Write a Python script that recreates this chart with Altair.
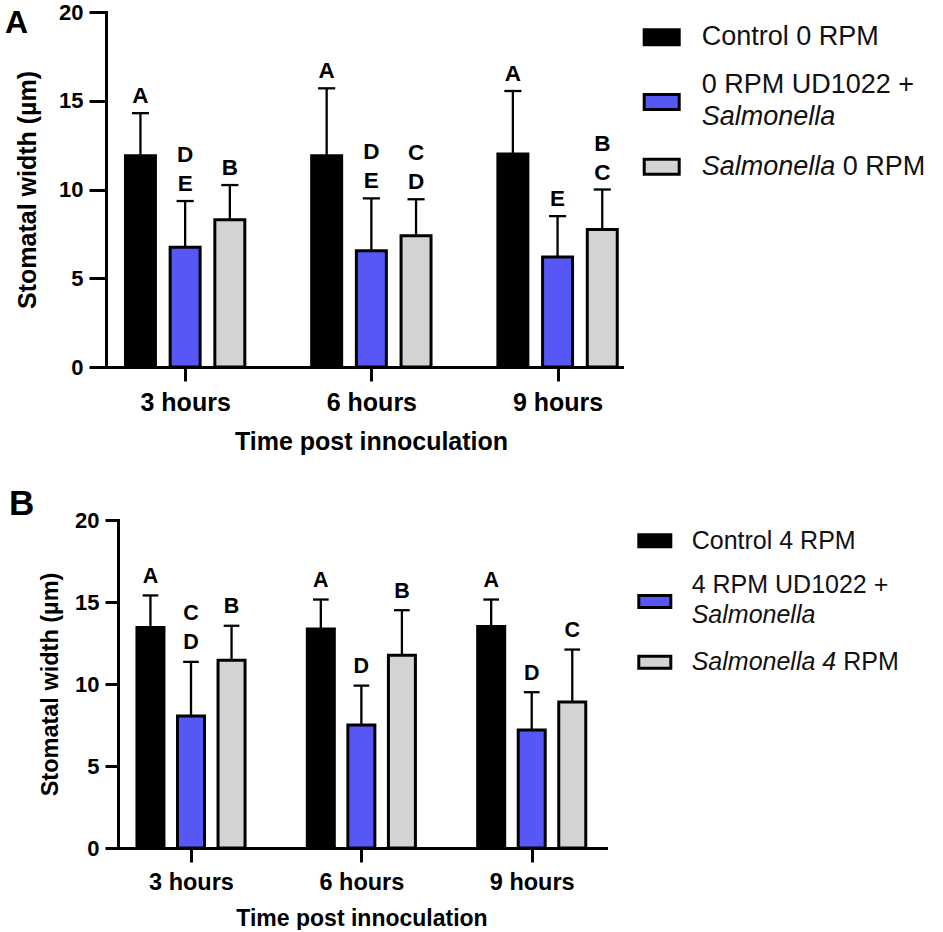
import altair as alt
import pandas as pd

# ---------------- data ----------------
times = ["3 hours", "6 hours", "9 hours"]
series_A = ["Control 0 RPM", "0 RPM UD1022 + Salmonella", "Salmonella 0 RPM"]
series_B = ["Control 4 RPM", "4 RPM UD1022 + Salmonella", "Salmonella 4 RPM"]
colors = ["#000000", "#5757F5", "#D3D3D3"]

# Panel A (0 RPM): means and SD (µm)
a_control = [11.9, 11.9, 12.0]
a_control_sd = [2.4, 3.8, 3.55]
a_ud = [6.75, 6.55, 6.2]
a_ud_sd = [2.6, 2.95, 2.3]
a_salm = [8.3, 7.4, 7.75]
a_salm_sd = [1.95, 2.05, 2.25]
a_letters_control = ["A", "A", "A"]
a_letters_ud = ["D\nE", "D\nE", "E"]
a_letters_salm = ["B", "C\nD", "B\nC"]

# Panel B (4 RPM)
b_control = [13.45, 13.35, 13.5]
b_control_sd = [1.95, 1.8, 1.65]
b_ud = [8.05, 7.5, 7.2]
b_ud_sd = [3.3, 2.4, 2.3]
b_salm = [11.45, 11.75, 8.9]
b_salm_sd = [2.1, 2.75, 3.2]
b_letters_control = ["A", "A", "A"]
b_letters_ud = ["C\nD", "D", "D"]
b_letters_salm = ["B", "B", "C"]

# legend labels (_..._ marks italic)
legend_A = ["Control 0 RPM", "0 RPM UD1022 +\n_Salmonella_", "_Salmonella_ 0 RPM"]
legend_B = ["Control 4 RPM", "4 RPM UD1022 +\n_Salmonella_", "_Salmonella 4_ RPM"]

FONT = "Liberation Sans"

# Arial advance widths (em) for measuring italic segments
AW = {"S": 0.667, "a": 0.556, "l": 0.222, "m": 0.833, "o": 0.556, "n": 0.556,
      "e": 0.556, "4": 0.556, "0": 0.556, " ": 0.278}


def text_w(s, size):
    return sum(AW.get(c, 0.556) for c in s) * size


def make_df(means, sds, letters, series, g):
    rows = []
    for s in range(3):
        for t in range(3):
            m = means[s][t]
            sd = sds[s][t]
            pos = t + (s - 1) * g["off"]
            lines = letters[s][t].split("\n")
            rows.append(dict(series=series[s], pos=pos,
                             lo=pos - g["barw"] / 2, hi=pos + g["barw"] / 2,
                             cl=pos - g["cap"] / 2, cr=pos + g["cap"] / 2,
                             mean=m, top=m + sd, zero=0,
                             lower=lines[-1],
                             upper=lines[0] if len(lines) > 1 else ""))
    return pd.DataFrame(rows)


def panel(df, series, g):
    xs = alt.Scale(domain=g["xdom"], nice=False, zero=False)
    ys = alt.Scale(domain=[0, 20], nice=False)
    label_expr = "[" + ",".join("'%s'" % t for t in times) + "][datum.value]"
    xaxis = alt.Axis(values=[0, 1, 2], labelExpr=label_expr, title="Time post innoculation",
                     grid=False, domainColor="black", domainWidth=3, domainCap="square",
                     tickColor="black", tickWidth=3, tickSize=14,
                     labelPadding=g["xlabpad"], labelFont=FONT, labelFontSize=g["xlab"],
                     labelFontWeight="bold", labelColor="black",
                     titleFont=FONT, titleFontSize=g["xtitle"], titleFontWeight="bold",
                     titleColor="black", titleX=g["xtitle_x"], titleY=g["xtitle_y"],
                     titleBaseline="middle")
    yaxis = alt.Axis(values=[0, 5, 10, 15, 20], title="Stomatal width (µm)", grid=False,
                     domainColor="black", domainWidth=3, domainCap="square",
                     tickColor="black", tickWidth=3, tickSize=g["ytick"],
                     labelPadding=6, labelFont=FONT, labelFontSize=g["ylab"],
                     labelFontWeight="bold", labelColor="black",
                     titleFont=FONT, titleFontSize=g["ytitle"], titleFontWeight="bold",
                     titleColor="black", titleX=g["ytitle_x"], titleY=g["height"] / 2,
                     titleBaseline="middle", titleAngle=270)
    base = alt.Chart(df)
    err = base.mark_rule(color="black", strokeWidth=2.3).encode(
        x=alt.X("pos:Q", scale=xs), y=alt.Y("mean:Q", scale=ys), y2="top:Q")
    capr = base.mark_rule(color="black", strokeWidth=2.3).encode(
        x=alt.X("cl:Q", scale=xs), x2="cr:Q", y=alt.Y("top:Q", scale=ys))
    bars = base.mark_bar(stroke="black", strokeWidth=3).encode(
        x=alt.X("lo:Q", scale=xs, axis=xaxis),
        x2="hi:Q",
        y=alt.Y("mean:Q", scale=ys, axis=yaxis),
        y2="zero:Q",
        fill=alt.Fill("series:N", scale=alt.Scale(domain=series, range=colors), legend=None),
    )
    low = base.mark_text(font=FONT, fontSize=g["let"], fontWeight="bold", color="black",
                         baseline="alphabetic", align="center", dy=-g["lgap"]).encode(
        x=alt.X("pos:Q", scale=xs), y=alt.Y("top:Q", scale=ys), text="lower:N")
    up = base.mark_text(font=FONT, fontSize=g["let"], fontWeight="bold", color="black",
                        baseline="alphabetic", align="center",
                        dy=-(g["lgap"] + g["lineh"])).encode(
        x=alt.X("pos:Q", scale=xs), y=alt.Y("top:Q", scale=ys), text="upper:N")
    lab = alt.Chart(pd.DataFrame({"t": [g["name"]]})).mark_text(
        font=FONT, fontSize=g["pfs"], fontWeight="bold", color="black",
        align="left", baseline="alphabetic").encode(
        x=alt.value(g["px"]), y=alt.value(g["py"]), text="t:N")
    return alt.layer(err, capr, bars, low, up, lab).properties(
        width=g["width"], height=g["height"])


def legend(labels, series, g):
    sw = []
    tx = []
    for i, lab in enumerate(labels):
        yc = g["ly0"] + g["lstep"] * i
        sw.append(dict(series=series[i], y=yc))
        lines = lab.split("\n")
        n = len(lines)
        for j, line in enumerate(lines):
            ly = yc + (j - (n - 1) / 2) * g["lline"] + (g["lshift"] if n > 1 else 0)
            x = g["ltx"]
            parts = line.split("_")
            for k, part in enumerate(parts):
                if part == "":
                    continue
                italic = (k % 2 == 1)
                lead = len(part) - len(part.lstrip(" "))
                x += lead * AW[" "] * g["lfs"]
                seg = part.strip(" ")
                tx.append(dict(x=x, y=ly, text=seg, italic=italic))
                x += text_w(seg, g["lfs"])
                trail = len(part) - len(part.rstrip(" "))
                x += trail * AW[" "] * g["lfs"]
    swdf = pd.DataFrame(sw)
    txdf = pd.DataFrame(tx)
    hh = g["swh"] / g["sww"]
    shape = "M-1,-%.4fH1V%.4fH-1Z" % (hh, hh)
    sws = alt.Chart(swdf).mark_point(shape=shape, size=g["sww"] ** 2, filled=True,
                                     opacity=1, stroke="black", strokeWidth=3).encode(
        x=alt.value(g["lsx"]), y=alt.Y("y:Q", scale=None),
        fill=alt.Fill("series:N", scale=alt.Scale(domain=series, range=colors), legend=None))
    tbase = alt.Chart(txdf)
    tn = tbase.transform_filter("!datum.italic").mark_text(
        font=FONT, fontSize=g["lfs"], color="#111111", align="left", baseline="middle").encode(
        x=alt.X("x:Q", scale=None), y=alt.Y("y:Q", scale=None), text="text:N")
    ti = tbase.transform_filter("datum.italic").mark_text(
        font=FONT, fontSize=g["lfs"], fontStyle="italic", color="#111111",
        align="left", baseline="middle").encode(
        x=alt.X("x:Q", scale=None), y=alt.Y("y:Q", scale=None), text="text:N")
    return alt.layer(sws, tn, ti).properties(width=g["lw"], height=g["lh"])


gA = dict(name="A", width=516, height=355, xdom=[-0.425, 2.346], off=0.24, barw=0.161,
          cap=0.092, ytick=17, ylab=22, ytitle=25, ytitle_x=-79, xlab=25, xlabpad=9,
          xtitle=25, xtitle_x=265, xtitle_y=74, let=22.5, lgap=10, lineh=29,
          px=-101, py=20.7, pfs=32,
          ly0=25.2, lstep=64.8, lline=32, lshift=-1, ltx=79.7, lsx=39.7, sww=35, swh=15,
          lfs=27, lw=300, lh=190)
gB = dict(name="B", width=488, height=328, xdom=[-0.4285, 2.436], off=0.238, barw=0.1585,
          cap=0.092, ytick=13, ylab=22, ytitle=23.5, ytitle_x=-68, xlab=23.5, xlabpad=8,
          xtitle=23, xtitle_x=243.5, xtitle_y=70, let=21.5, lgap=12.5, lineh=29,
          px=-109, py=-5.3, pfs=35,
          ly0=20.8, lstep=60.7, lline=30, lshift=-2, ltx=85.7, lsx=48.8, sww=32, swh=12,
          lfs=25, lw=320, lh=170)

dfA = make_df([a_control, a_ud, a_salm], [a_control_sd, a_ud_sd, a_salm_sd],
              [a_letters_control, a_letters_ud, a_letters_salm], series_A, gA)
dfB = make_df([b_control, b_ud, b_salm], [b_control_sd, b_ud_sd, b_salm_sd],
              [b_letters_control, b_letters_ud, b_letters_salm], series_B, gB)

# empty spacer that shifts panel B's plot area right of panel A's
spacer = alt.Chart(pd.DataFrame({"s": [0]})).mark_point(opacity=0).encode(
    x=alt.value(0), y=alt.value(0)).properties(width=12, height=10)

rowA = alt.hconcat(panel(dfA, series_A, gA), legend(legend_A, series_A, gA),
                   spacing=0, bounds="flush")
rowB = alt.hconcat(spacer, panel(dfB, series_B, gB), legend(legend_B, series_B, gB),
                   spacing=0, bounds="flush")

chart = alt.vconcat(rowA, rowB, spacing=32).properties(
    padding={"left": 5, "top": 1, "right": 0, "bottom": 0},
    background="white",
).configure_view(stroke=None)

chart.save("out.html", embed_options={"renderer": "svg", "actions": False})
